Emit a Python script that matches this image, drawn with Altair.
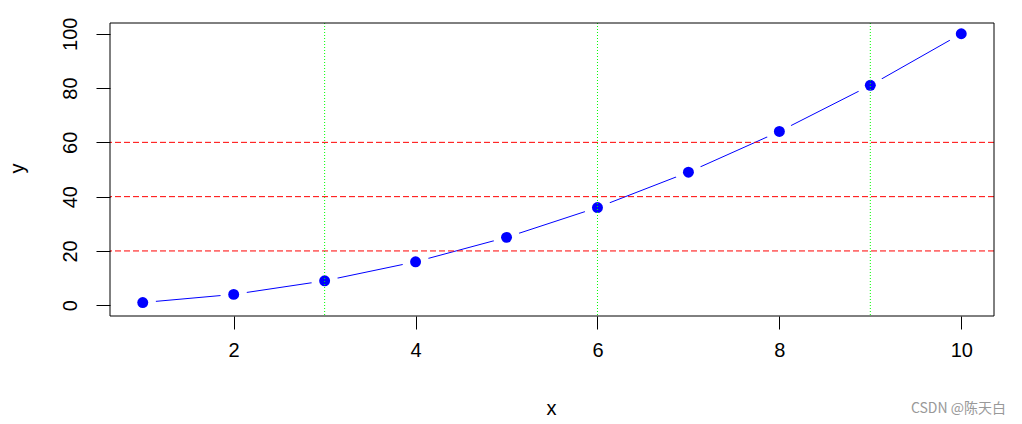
import altair as alt
import pandas as pd

xs = [1, 2, 3, 4, 5, 6, 7, 8, 9, 10]
ys = [1, 4, 9, 16, 25, 36, 49, 64, 81, 100]
h_lines = [20, 40, 60]
v_lines = [3, 6, 9]
x_ticks = [2, 4, 6, 8, 10]
y_ticks = [0, 20, 40, 60, 80, 100]
watermark = "CSDN @陈天白"

FONT = "Liberation Sans"
FS = 20
W, H = 884, 293

df = pd.DataFrame({"x": xs, "y": ys})
dh = pd.DataFrame({"y": h_lines})
dv = pd.DataFrame({"x": v_lines})

xscale = alt.Scale(domain=[0.64, 10.36], nice=False, zero=False)
yscale = alt.Scale(domain=[-3.96, 103.96], nice=False, zero=False)

xaxis = alt.Axis(values=x_ticks, format="d", title="x", grid=False, domain=False,
                 tickSize=13, tickColor="black", labelFontSize=FS,
                 labelColor="black", labelPadding=11, labelFont=FONT,
                 titleFont=FONT, titleFontSize=FS, titleFontWeight="normal",
                 titleColor="black", titleX=441, titleY=92,
                 titleBaseline="middle", titleAlign="center")
yaxis = alt.Axis(values=y_ticks, format="d", title="y", grid=False, domain=False,
                 tickSize=14, tickColor="black", labelFontSize=FS,
                 labelColor="black", labelAngle=-90, labelPadding=16,
                 labelFont=FONT, titleFont=FONT, titleFontSize=FS,
                 titleFontWeight="normal", titleColor="black",
                 titleAngle=-90, titleX=-93, titleY=145,
                 titleBaseline="middle", titleAlign="center")

base = alt.Chart(df)

line = base.mark_line(color="#0000FF", strokeWidth=1).encode(
    x=alt.X("x:Q", scale=xscale, axis=xaxis),
    y=alt.Y("y:Q", scale=yscale, axis=yaxis),
)
halo = base.mark_circle(color="white", opacity=1, size=700).encode(
    x=alt.X("x:Q", scale=xscale), y=alt.Y("y:Q", scale=yscale))
pts = base.mark_circle(color="#0000FF", opacity=1, size=120).encode(
    x=alt.X("x:Q", scale=xscale), y=alt.Y("y:Q", scale=yscale))

hr = alt.Chart(dh).mark_rule(color="#FF0000", strokeWidth=1,
                             strokeDash=[6, 3]).encode(
    y=alt.Y("y:Q", scale=yscale))
vr = alt.Chart(dv).mark_rule(color="#00FF00", strokeWidth=1,
                             strokeDash=[1, 2]).encode(
    x=alt.X("x:Q", scale=xscale))

frame = alt.Chart(pd.DataFrame({"f": [0]})).mark_rect(
    fill=None, filled=False, stroke="black", strokeWidth=1).encode(
    x=alt.value(0), x2=alt.value(W), y=alt.value(0), y2=alt.value(H))

wm = alt.Chart(pd.DataFrame({"t": [watermark]})).mark_text(
    align="right", baseline="middle", fontSize=14, color="#999999",
    font="Noto Sans CJK SC").encode(
    text="t:N", x=alt.value(896), y=alt.value(386))

chart = alt.layer(line, halo, pts, hr, vr, frame, wm).properties(
    width=W, height=H,
    autosize=alt.AutoSizeParams(type="none"),
    padding={"left": 102, "top": 15, "right": 20, "bottom": 100},
).configure(
    background="white",
    view=alt.ViewConfig(stroke=None),
)

chart.save("out.html", embed_options={"renderer": "svg", "actions": False})
